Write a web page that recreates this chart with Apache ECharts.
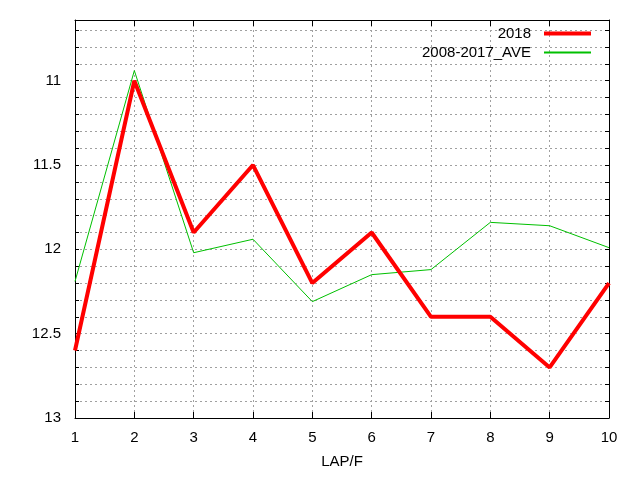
<!DOCTYPE html>
<html><head><meta charset="utf-8">
<script src="https://cdn.jsdelivr.net/npm/echarts@6/dist/echarts.min.js"></script>
<style>html,body{margin:0;padding:0;background:#fff}#c{width:640px;height:480px}</style>
</head><body><div id="c"></div>
<script>
const laps = [1, 2, 3, 4, 5, 6, 7, 8, 9, 10];
const series2018 = [12.6, 11.0, 11.9, 11.5, 12.2, 11.9, 12.4, 12.4, 12.7, 12.2];
const seriesAve = [12.19, 10.94, 12.02, 11.94, 12.31, 12.15, 12.12, 11.84, 11.86, 11.99];
const yTickLabels = [11, 11.5, 12, 12.5, 13];
const yGridValues = [10.7, 10.8, 10.9, 11, 11.1, 11.2, 11.3, 11.4, 11.5, 11.6, 11.7, 11.8, 11.9,
                     12, 12.1, 12.2, 12.3, 12.4, 12.5, 12.6, 12.7, 12.8, 12.9, 13];

const font = 'Liberation Sans, Arial, sans-serif';
const fs = 15;
const gridLine = { show: true, lineStyle: { color: '#a0a0a0', type: [2, 3], width: 1 } };
const chart = echarts.init(document.getElementById('c'));
chart.setOption({
  animation: false,
  backgroundColor: '#fff',
  grid: { left: 75, right: 31, top: 20, bottom: 62, show: false },
  legend: [
    { data: ['2018'], right: 49, top: 26, padding: 0, itemWidth: 47, itemHeight: 4, align: 'right', itemGap: 0,
      icon: 'rect', textStyle: { fontFamily: font, fontSize: fs, color: '#000', padding: [0, 8, 0, 0] } },
    { data: ['2008-2017_AVE'], right: 49, top: 45, padding: 0, itemWidth: 47, itemHeight: 2, align: 'right', itemGap: 0,
      icon: 'rect', textStyle: { fontFamily: font, fontSize: fs, color: '#000', padding: [0, 8, 0, 0] } }
  ],
  xAxis: [
    { type: 'value', min: 1, max: 10, interval: 1, position: 'bottom',
      name: 'LAP/F', nameLocation: 'middle', nameGap: 36,
      nameTextStyle: { fontFamily: font, fontSize: fs, color: '#000' },
      axisLine: { show: true, onZero: false, lineStyle: { color: '#000', width: 1 } },
      axisTick: { show: true, inside: true, length: 6, lineStyle: { color: '#000' } },
      axisLabel: { fontFamily: font, fontSize: fs, color: '#000', margin: 12 },
      splitLine: gridLine },
    { type: 'value', min: 1, max: 10, interval: 1, position: 'top',
      axisLine: { show: true, onZero: false, lineStyle: { color: '#000', width: 1 } },
      axisTick: { show: true, inside: true, length: 6, lineStyle: { color: '#000' } },
      axisLabel: { show: false }, splitLine: { show: false } }
  ],
  yAxis: [
    { type: 'value', inverse: true, min: 10.64, max: 13, position: 'left',
      axisLine: { show: true, onZero: false, lineStyle: { color: '#000', width: 1 } },
      axisTick: { show: true, inside: true, length: 4, customValues: yGridValues, lineStyle: { color: '#000' } },
      axisLabel: { fontFamily: font, fontSize: fs, color: '#000', margin: 14, customValues: yTickLabels },
      splitLine: gridLine },
    { type: 'value', inverse: true, min: 10.64, max: 13, position: 'right',
      axisLine: { show: true, onZero: false, lineStyle: { color: '#000', width: 1 } },
      axisTick: { show: true, inside: true, length: 4, customValues: yGridValues, lineStyle: { color: '#000' } },
      axisLabel: { show: false }, splitLine: { show: false } }
  ],
  series: [
    { name: '2018', type: 'line', data: laps.map((x, i) => [x, series2018[i]]),
      showSymbol: false, color: '#ff0000', lineStyle: { width: 4, color: '#ff0000' }, z: 3 },
    { name: '2008-2017_AVE', type: 'line', data: laps.map((x, i) => [x, seriesAve[i]]),
      showSymbol: false, color: '#00c000', lineStyle: { width: 1, color: '#00c000' }, z: 2 }
  ]
});
</script>
</body></html>
